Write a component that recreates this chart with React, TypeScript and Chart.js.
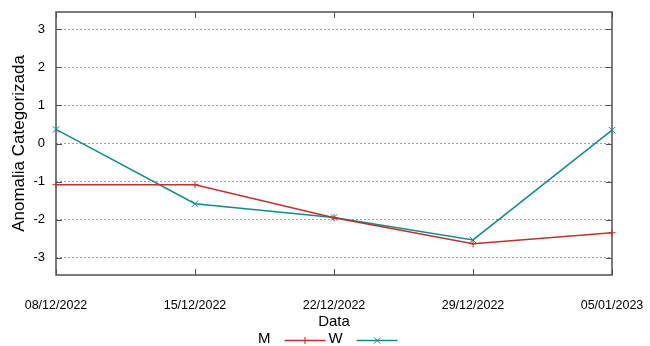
import React, { useEffect, useRef } from 'react';
import { Chart, registerables } from 'chart.js';

Chart.register(...registerables);

const dates = ['08/12/2022', '15/12/2022', '22/12/2022', '29/12/2022', '05/01/2023'];
const seriesM = [-1.08, -1.08, -1.95, -2.63, -2.34];
const seriesW = [0.37, -1.58, -1.94, -2.53, 0.35];
const yMin = -3.45;
const yMax = 3.45;
const yStep = 1;

const FONT = '"Liberation Sans", Arial, Helvetica, sans-serif';
const RED = '#bb3232';
const TEAL = '#168a8a';

const framePlugin = {
  id: 'gpFrame',
  beforeDatasetsDraw(chart: any) {
    const { ctx, chartArea, scales } = chart;
    const { left, right, top, bottom } = chartArea;
    const x = scales.x;
    const y = scales.y;
    ctx.save();
    ctx.strokeStyle = '#505050';
    ctx.lineWidth = 1;
    ctx.beginPath();
    y.ticks.forEach((_t: any, i: number) => {
      const py = Math.round(y.getPixelForTick(i)) + 0.5;
      ctx.moveTo(left, py);
      ctx.lineTo(left + 6, py);
      ctx.moveTo(right - 6, py);
      ctx.lineTo(right, py);
    });
    x.ticks.forEach((_t: any, i: number) => {
      const px = Math.round(x.getPixelForTick(i)) + 0.5;
      ctx.moveTo(px, bottom);
      ctx.lineTo(px, bottom - 6);
      ctx.moveTo(px, top);
      ctx.lineTo(px, top + 6);
    });
    ctx.stroke();
    ctx.lineWidth = 1.5;
    ctx.strokeRect(Math.round(left), Math.round(top), Math.round(right - left), Math.round(bottom - top));
    ctx.restore();
  },
};

const legendPlugin = {
  id: 'gpLegend',
  afterDraw(chart: any) {
    const { ctx, chartArea } = chart;
    const cx = (chartArea.left + chartArea.right) / 2;
    let x = cx - 76;
    const textY = 338.5;
    const lineY = 340.5;
    ctx.save();
    ctx.font = '15px ' + FONT;
    ctx.textBaseline = 'middle';
    ctx.textAlign = 'left';
    chart.data.datasets.forEach((ds: any) => {
      ctx.fillStyle = '#000';
      ctx.fillText(ds.label, x, textY);
      const w = ctx.measureText(ds.label).width;
      const ls = x + w + 14;
      const le = ls + 41;
      ctx.strokeStyle = ds.borderColor;
      ctx.lineWidth = 1.5;
      ctx.beginPath();
      ctx.moveTo(ls, lineY);
      ctx.lineTo(le, lineY);
      ctx.stroke();
      const mx = (ls + le) / 2;
      const r = ds.pointRadius;
      ctx.lineWidth = 1;
      ctx.beginPath();
      if (ds.pointStyle === 'cross') {
        ctx.moveTo(mx, lineY - r);
        ctx.lineTo(mx, lineY + r);
        ctx.moveTo(mx - r, lineY);
        ctx.lineTo(mx + r, lineY);
      } else {
        const d = r * 0.707;
        ctx.moveTo(mx - d, lineY - d);
        ctx.lineTo(mx + d, lineY + d);
        ctx.moveTo(mx - d, lineY + d);
        ctx.lineTo(mx + d, lineY - d);
      }
      ctx.stroke();
      x = le + 3;
    });
    ctx.restore();
  },
};

export default function App() {
  const ref = useRef<HTMLCanvasElement | null>(null);

  useEffect(() => {
    if (!ref.current) return;
    const chart = new Chart(ref.current, {
      type: 'line',
      data: {
        labels: dates,
        datasets: [
          {
            label: 'M',
            data: seriesM,
            borderColor: RED,
            backgroundColor: RED,
            borderWidth: 1.5,
            pointStyle: 'cross',
            pointRadius: 3.5,
            pointBorderWidth: 1,
            pointBorderColor: RED,
            tension: 0,
            clip: false as any,
          },
          {
            label: 'W',
            data: seriesW,
            borderColor: TEAL,
            backgroundColor: TEAL,
            borderWidth: 1.5,
            pointStyle: 'crossRot',
            pointRadius: 4.5,
            pointBorderWidth: 1,
            pointBorderColor: TEAL,
            tension: 0,
            clip: false as any,
          },
        ],
      },
      options: {
        responsive: false,
        animation: false,
        events: [],
        layout: { padding: { top: 12, right: 38, left: 0, bottom: 0 } },
        plugins: {
          legend: { display: false },
          tooltip: { enabled: false },
        },
        scales: {
          x: {
            type: 'category',
            offset: false,
            grid: { display: false, drawTicks: false },
            border: { display: false },
            ticks: {
              color: '#000',
              font: { family: FONT, size: 12.5 },
              padding: 23,
              maxRotation: 0,
              autoSkip: false,
            },
            title: {
              display: true,
              text: 'Data',
              color: '#000',
              font: { family: FONT, size: 15 },
              padding: { top: 0, bottom: 15 },
            },
            afterFit: (scale: any) => {
              scale.height = 71;
              scale.paddingLeft = 0;
              scale.paddingRight = 0;
            },
          },
          y: {
            min: yMin,
            max: yMax,
            grid: {
              display: true,
              drawTicks: false,
              color: '#a0a0a0',
              lineWidth: 1,
            },
            border: { display: false, dash: [2, 2] },
            ticks: {
              stepSize: yStep,
              includeBounds: false,
              color: '#000',
              font: { family: FONT, size: 13 },
              padding: 11,
            },
            title: {
              display: true,
              text: 'Anomalia Categorizada',
              color: '#000',
              font: { family: FONT, size: 17 },
              padding: { top: 9, bottom: 0 },
            },
            afterFit: (scale: any) => {
              scale.width = 56;
              scale.paddingTop = 0;
              scale.paddingBottom = 0;
            },
          },
        },
      },
      plugins: [framePlugin, legendPlugin],
    });
    return () => chart.destroy();
  }, []);

  return (
    <div style={{ position: 'absolute', left: 0, top: 0, width: 650, height: 346, background: '#fff' }}>
      <canvas ref={ref} width={650} height={346} style={{ display: 'block', width: 650, height: 346 }} />
    </div>
  );
}
